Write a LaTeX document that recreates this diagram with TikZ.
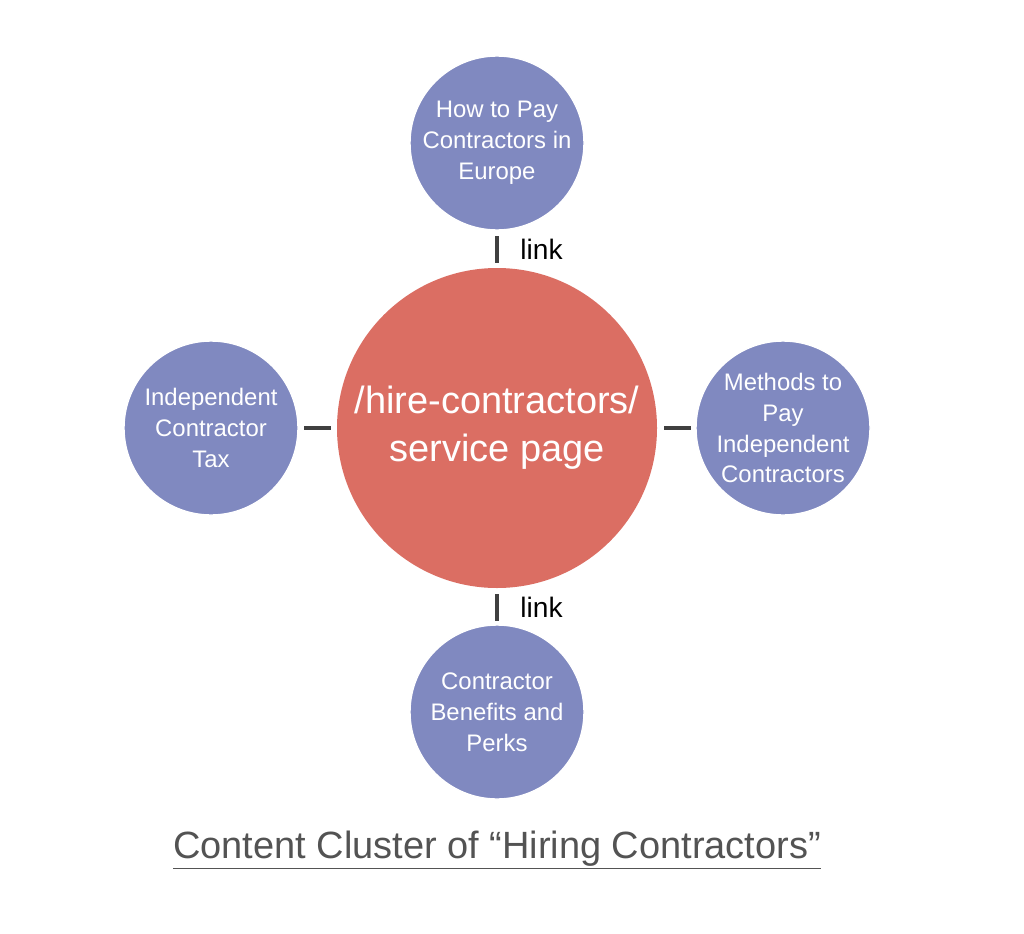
\documentclass[tikz,border=0pt]{standalone}
\usepackage{fontspec}
\setmainfont{Liberation Sans}
\definecolor{topicblue}{RGB}{128,137,192}
\definecolor{pillarred}{RGB}{219,110,99}
\definecolor{stubgray}{RGB}{64,64,64}
\tikzset{
  topic/.style={circle, fill=topicblue, draw=white, line width=1pt, minimum size=174*0.025cm,
    inner sep=0pt, text=white, align=center, font=\fontsize{17}{22}\selectfont},
  stub/.style={line width=2.6pt, draw=stubgray},
}
\begin{document}
\begin{tikzpicture}[x=0.025cm, y=-0.025cm]
    \useasboundingbox[fill=white] (0,0) rectangle (1024,933);
    % pillar page
    \node[circle, fill=pillarred, minimum size=320*0.025cm, inner sep=0pt, text=white,
      align=center, font=\fontsize{27}{34}\selectfont] (pillar) at (497,428) {/hire-contractors/\\service page};
    % cluster topics
    \node[topic] (europe) at (497,143) {How to Pay\\Contractors in\\Europe};
    \node[topic] (tax) at (211,428) {Independent\\Contractor\\Tax};
    \node[topic] (methods) at (783,428) {Methods to\\Pay\\Independent\\Contractors};
    \node[topic] (perks) at (497,712) {Contractor\\Benefits and\\Perks};
    % links
    \coordinate (ta) at (497,236); \coordinate (tb) at (497,263);
    \coordinate (la) at (304,428); \coordinate (lb) at (331,428);
    \coordinate (ra) at (664,428); \coordinate (rb) at (691,428);
    \coordinate (ba) at (497,594); \coordinate (bb) at (497,621);
    \draw[stub] (ta) -- (tb) node[midway, right=12pt, text=black, font=\fontsize{20}{24}\selectfont] {link};
    \draw[stub] (la) -- (lb);
    \draw[stub] (ra) -- (rb);
    \draw[stub] (ba) -- (bb) node[midway, right=12pt, text=black, font=\fontsize{20}{24}\selectfont] {link};
    % title
    \node[text=stubgray!90, font=\fontsize{27}{32}\selectfont] (title) at (497,850)
      {\underline{Content Cluster of “Hiring Contractors”}};
\end{tikzpicture}
\end{document}
